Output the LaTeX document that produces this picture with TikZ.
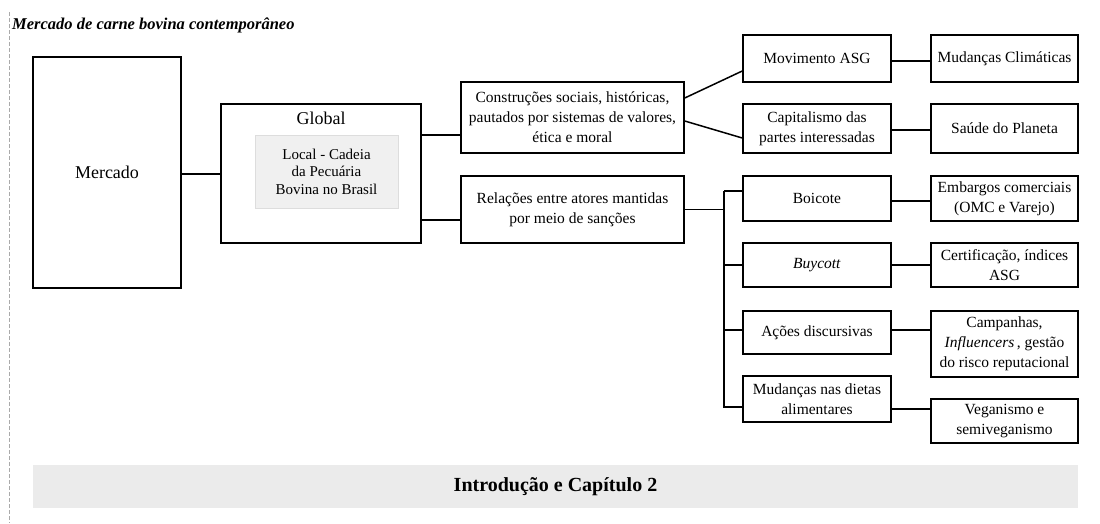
\documentclass[tikz,border=0pt]{standalone}
\usepackage{fontspec}
\setmainfont{Liberation Serif}
\usetikzlibrary{calc}
\definecolor{bandgray}{HTML}{EBEBEB}
\definecolor{localgray}{HTML}{F0F0F0}
\definecolor{localedge}{HTML}{DDDDDD}
\definecolor{guidegray}{HTML}{AAAAAA}
\tikzset{
  box/.style={draw=black, line width=1.5pt, fill=white, align=center,
    inner sep=0pt, font=\fontsize{15.5}{20}\selectfont},
  link/.style={draw=black, line width=1.5pt},
}
\begin{document}
\begin{tikzpicture}[x=1pt, y=-1pt]
\useasboundingbox (0,0) rectangle (1100,523);

% left guide line
\coordinate (gtop) at (9,12);
\coordinate (gbot) at (9,523);
\draw[guidegray, dashed, line width=0.8pt, dash pattern=on 4pt off 2pt] (gtop) -- (gbot);

% title
\node[anchor=base west, inner sep=0pt, font=\fontsize{16.5}{20}\selectfont\bfseries\itshape] (title) at (12,29.5) {Mercado de carne bovina contempor\^aneo};

% level 1 and 2
\node[box, minimum width=148pt, minimum height=231pt, font=\fontsize{18}{22}\selectfont] (merc) at (107,172.5) {Mercado};
\node[box, minimum width=200pt, minimum height=139pt] (glob) at (321,173.5) {};
\node[inner sep=0pt, font=\fontsize{18}{22}\selectfont] (globlbl) at (321,118) {Global};
\node[draw=localedge, line width=0.8pt, fill=localgray, align=center, inner sep=0pt,
      minimum width=143pt, minimum height=73pt, font=\fontsize{15}{17.5}\selectfont] (local) at (326.5,171.5)
      {Local - Cadeia\\da Pecuária\\Bovina no Brasil};

% level 3
\node[box, minimum width=223pt, minimum height=71pt] (cons) at (572.5,117.5)
  {Construções sociais, históricas,\\pautados por sistemas de valores,\\ética e moral};
\node[box, minimum width=223pt, minimum height=67pt] (rel) at (572.5,209.5)
  {Relações entre atores mantidas\\por meio de sanções};

% level 4
\node[box, minimum width=148pt, minimum height=47pt] (mov) at (817,58.5) {Movimento ASG};
\node[box, minimum width=148pt, minimum height=49pt] (cap) at (817,128.5) {Capitalismo das\\partes interessadas};
\node[box, minimum width=148pt, minimum height=45pt] (boi) at (817,198.5) {Boicote};
\node[box, minimum width=148pt, minimum height=44pt] (buy) at (817,265) {\textit{Buycott}};
\node[box, minimum width=148pt, minimum height=43pt] (aco) at (817,332.5) {Ações discursivas};
\node[box, minimum width=148pt, minimum height=46pt] (diet) at (817,399) {Mudanças nas dietas\\alimentares};

% level 5
\node[box, minimum width=147pt, minimum height=47pt] (mud) at (1004.5,58.5) {Mudanças Climáticas};
\node[box, minimum width=147pt, minimum height=49pt] (sau) at (1004.5,128.5) {Saúde do Planeta};
\node[box, minimum width=147pt, minimum height=45pt] (emb) at (1004.5,198.5) {Embargos comerciais\\(OMC e Varejo)};
\node[box, minimum width=147pt, minimum height=44pt] (cert) at (1004.5,265) {Certificação, índices\\ASG};
\node[box, minimum width=147pt, minimum height=66pt] (camp) at (1004.5,344) {Campanhas,\\\textit{Influencers}\,, gestão\\do risco reputacional};
\node[box, minimum width=147pt, minimum height=44pt] (veg) at (1004.5,421) {Veganismo e\\semiveganismo};

% bottom band
\node[fill=bandgray, inner sep=0pt, minimum width=1045pt, minimum height=43pt,
      font=\fontsize{20}{24}\selectfont\bfseries] (band) at (555.5,486.5) {Introdução e Capítulo 2};

% connectors
\draw[link] (merc.east |- 0,174) -- (glob.west |- 0,174);
\draw[link] (glob.east |- 0,135) -- (cons.west |- 0,135);
\draw[link] (glob.east |- 0,220) -- (rel.west |- 0,220);

\draw[link] ([yshift=19.5pt]cons.east) -- ([yshift=-12.5pt]mov.west);
\draw[link] ([yshift=-3.5pt]cons.east) -- ([yshift=-9.5pt]cap.west);

\draw[link] (mov.east |- 0,61) -- (mud.west |- 0,61);
\draw[link] (cap.east |- 0,130) -- (sau.west |- 0,130);

% sanction branches
\coordinate (trunk) at (724,209.5);
\draw[link] (rel.east) -- (trunk);
\draw[link] (trunk |- boi.west) ++(0,-7.5) coordinate (ttop) -- (ttop -| boi.west);
\draw[link] (ttop) -- (trunk |- 0,407) coordinate (tbot) -- (tbot -| diet.west);
\draw[link] (trunk |- buy.west) -- (buy.west);
\draw[link] (trunk |- 0,330) -- (aco.west |- 0,330);

\draw[link] (boi.east |- 0,201) -- (emb.west |- 0,201);
\draw[link] (buy.east) -- (cert.west);
\draw[link] (aco.east |- 0,330) -- (camp.west |- 0,330);
\draw[link] (diet.east |- 0,409) -- (veg.west |- 0,409);
\end{tikzpicture}
\end{document}
